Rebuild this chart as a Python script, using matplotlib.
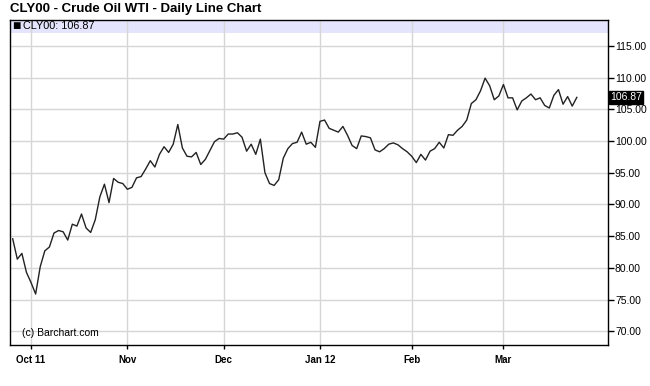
import matplotlib
matplotlib.use("Agg")
import matplotlib.pyplot as plt
import pandas as pd
from pandas.tseries.offsets import CustomBusinessDay

plt.rcParams["font.family"] = ["Liberation Sans", "DejaVu Sans"]

# daily closes, Sep 27 2011 -> Mar 22 2012
closes = [
    84.6, 81.4, 82.3, 79.3, 77.7, 75.9, 80.2, 82.7, 83.3, 85.5,
    85.9, 85.7, 84.4, 86.9, 86.6, 88.5, 86.3, 85.6, 87.6, 91.2,
    93.2, 90.3, 94.1, 93.5, 93.3, 92.4, 92.7, 94.2, 94.4, 95.6,
    96.9, 95.9, 97.9, 99.1, 98.2, 99.5, 102.6, 98.9, 97.6, 97.5,
    98.2, 96.3, 97.1, 98.5, 99.9, 100.4, 100.3, 101.1, 101.1, 101.3,
    100.6, 98.4, 99.5, 97.9, 100.3, 95.0, 93.3, 93.0, 93.9, 97.3,
    98.8, 99.6, 99.8, 101.4, 99.5, 99.8, 99.0, 103.1, 103.3, 102.0,
    101.7, 101.4, 102.3, 100.9, 99.3, 98.8, 100.8, 100.7, 100.5, 98.6,
    98.3, 98.8, 99.5, 99.7, 99.4, 98.8, 98.3, 97.6, 96.6, 97.9,
    97.0, 98.4, 98.8, 99.8, 98.9, 101.0, 100.9, 101.7, 102.3, 103.3,
    105.9, 106.5, 107.9, 109.9, 108.7, 106.5, 107.1, 108.9, 106.8, 106.8,
    104.9, 106.3, 106.8, 107.4, 106.5, 106.8, 105.6, 105.2, 107.2, 108.1,
    105.8, 107.0, 105.5, 106.87,
]
holidays = ["2011-11-24", "2011-12-26", "2012-01-02", "2012-01-16", "2012-02-20"]
month_labels = ["Oct 11", "Nov", "Dec", "Jan 12", "Feb", "Mar"]
y_ticks = [70, 75, 80, 85, 90, 95, 100, 105, 110, 115]
symbol = "CLY00"
title = "CLY00 - Crude Oil WTI - Daily Line Chart"

bday = CustomBusinessDay(holidays=holidays)
dates = pd.date_range("2011-09-27", periods=len(closes), freq=bday)
idx = list(range(len(dates)))
months = pd.Series(dates).dt.to_period("M")
month_starts = [i for i in idx if i > 0 and months[i] != months[i - 1]]

fig = plt.figure(figsize=(6.5, 3.86), dpi=100)
ax = fig.add_axes([10 / 650, 41 / 386, 598 / 650, 325 / 386])

ax.set_xlim(-0.59, 129.8)
ax.set_ylim(67.87, 119.06)

# header band
ax.axhspan(117.05, 119.06, color="#e4e4fc", zorder=0, lw=0)
ax.grid(True, color="#d6d6d6", linewidth=1)
ax.set_axisbelow(True)

ax.plot(idx, closes, color="#222222", linewidth=1.0, zorder=3)

ax.set_xticks(month_starts)
ax.set_xticklabels(month_labels, fontsize=7, fontweight="bold")
ax.set_yticks(y_ticks)
ax.set_yticklabels([f"{v:.2f}" for v in y_ticks], fontsize=7.5)
ax.yaxis.tick_right()
ax.tick_params(axis="y", direction="out", length=4, width=1, pad=1)
ax.tick_params(axis="x", direction="out", length=3, width=1, pad=4)
for s in ax.spines.values():
    s.set_color("black")
    s.set_linewidth(1)

last = closes[-1]
ax.text(1.003, last, f"{last:.2f}", transform=ax.get_yaxis_transform(),
        fontsize=7.5, color="white", va="center", ha="left",
        bbox=dict(boxstyle="square,pad=0.12", fc="black", ec="black"))

# legend row in the header band
ax.text(0.004, 118.05, "\u25a0", transform=ax.get_yaxis_transform(),
        fontsize=10, va="center", ha="left")
ax.text(0.0225, 118.05, f"{symbol}: {last:.2f}", transform=ax.get_yaxis_transform(),
        fontsize=7.8, va="center", ha="left")
ax.text(0.02, 69.7, "(c) Barchart.com", transform=ax.get_yaxis_transform(),
        fontsize=7.5, va="center", ha="left")

fig.text(10 / 650, 1 - 9 / 386, title, fontsize=9.5, fontweight="bold", va="center", ha="left")

fig.savefig("out.png", dpi=100)
